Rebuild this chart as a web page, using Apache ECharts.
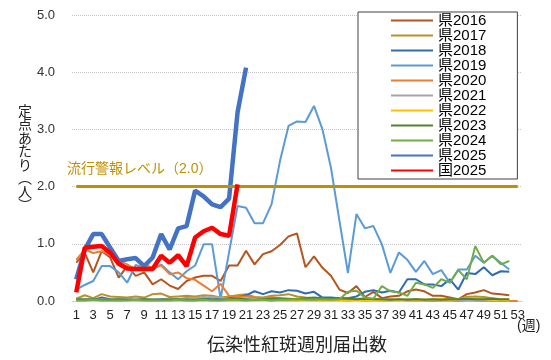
<!DOCTYPE html>
<html><head><meta charset="utf-8">
<script src="https://cdn.jsdelivr.net/npm/echarts@6/dist/echarts.min.js"></script>
<style>html,body{margin:0;padding:0;background:#fff}#c{width:551px;height:360px}</style>
</head><body><div id="c"></div>
<script>
const weeks = ['1','2','3','4','5','6','7','8','9','10','11','12','13','14','15','16','17','18','19','20','21','22','23','24','25','26','27','28','29','30','31','32','33','34','35','36','37','38','39','40','41','42','43','44','45','46','47','48','49','50','51','52','53'];
const yTicks = [0,1,2,3,4,5];
const alertLevel = 2.0;

const pref2016 = [0.67,0.84,0.50,0.87,0.76,0.41,0.61,0.44,0.50,0.29, 0.38,0.27,0.21,0.35,0.41,0.44,0.44,0.35,0.62,0.62, 0.88,0.64,0.82,0.87,0.98,1.13,1.18,0.59,0.78,0.58, 0.44,0.20,0.14,0.26,0.07,0.16,0.05,0.08,0.09,0.17, 0.20,0.17,0.09,0.09,0.06,0.03,0.12,0.15,0.19,0.13, 0.12,0.10];
const pref2017 = [0.04,0.10,0.05,0.12,0.08,0.07,0.06,0.08,0.06,0.12, 0.13,0.07,0.08,0.09,0.08,0.10,0.09,0.06,0.08,0.10, 0.12,0.07,0.06,0.09,0.10,0.12,0.08,0.06,0.05,0.04, 0.05,0.04,0.03,0.03,0.02,0.03,0.02,0.03,0.02,0.02, 0.03,0.02,0.02,0.03,0.04,0.03,0.07,0.08,0.07,0.05, 0.03,0.02];
const pref2018 = [0.02,0.03,0.02,0.06,0.03,0.02,0.03,0.02,0.03,0.02, 0.03,0.04,0.03,0.05,0.04,0.06,0.03,0.04,0.05,0.06, 0.10,0.17,0.12,0.17,0.15,0.19,0.18,0.13,0.16,0.06, 0.06,0.05,0.05,0.08,0.16,0.19,0.15,0.18,0.15,0.38, 0.38,0.29,0.29,0.26,0.38,0.20,0.49,0.47,0.59,0.45, 0.52,0.51];
const pref2019 = [0.20,0.28,0.35,0.61,0.61,0.50,0.32,0.63,0.58,0.55, 0.64,0.50,0.38,0.52,0.62,0.99,0.99,0.04,0.85,1.66, 1.63,1.36,1.36,1.69,2.45,3.06,3.14,3.13,3.41,3.00, 2.33,1.40,0.49,1.52,1.27,1.31,0.99,0.49,0.85,0.72, 0.51,0.70,0.47,0.54,0.32,0.55,0.55,0.79,0.67,0.79, 0.67,0.55];
const pref2020 = [0.72,0.90,0.84,0.87,0.82,0.70,0.64,0.55,0.64,0.58, 0.62,0.47,0.50,0.40,0.37,0.27,0.17,0.30,0.09,0.07, 0.08,0.06,0.05,0.07,0.04,0.03,0.04,0.03,0.02,0.03, 0.02,0.02,0.01,0.02,0.01,0.02,0.01,0.01,0.02,0.01, 0.01,0.01,0.00,0.01,0.01,0.00,0.01,0.01,0.00,0.01, 0.00,0.00,0.00];
const pref2021 = [0.02,0.03,0.02,0.03,0.02,0.02,0.03,0.02,0.02,0.03, 0.02,0.03,0.03,0.04,0.05,0.06,0.07,0.06,0.04,0.03, 0.03,0.02,0.03,0.02,0.02,0.03,0.02,0.02,0.03,0.02, 0.02,0.03,0.02,0.04,0.05,0.04,0.03,0.02,0.02,0.03, 0.02,0.02,0.01,0.02,0.02,0.01,0.02,0.01,0.01,0.02, 0.01,0.01];
const pref2022 = [0.01,0.01,0.02,0.01,0.01,0.01,0.02,0.01,0.01,0.01, 0.01,0.02,0.01,0.01,0.01,0.01,0.02,0.01,0.01,0.01, 0.01,0.01,0.02,0.01,0.01,0.01,0.01,0.02,0.01,0.01, 0.01,0.01,0.01,0.02,0.01,0.01,0.01,0.01,0.01,0.02, 0.01,0.02,0.02,0.03,0.02,0.03,0.05,0.04,0.03,0.02, 0.02,0.01];
const pref2023 = [0.03,0.02,0.03,0.02,0.02,0.03,0.02,0.02,0.03,0.02, 0.02,0.02,0.03,0.02,0.02,0.03,0.02,0.02,0.03,0.04, 0.03,0.02,0.03,0.04,0.05,0.04,0.03,0.05,0.06,0.05, 0.04,0.05,0.04,0.03,0.04,0.03,0.03,0.02,0.03,0.02, 0.03,0.02,0.03,0.02,0.03,0.03,0.04,0.03,0.03,0.04, 0.03,0.03];
const pref2024 = [0.01,0.01,0.02,0.01,0.01,0.01,0.01,0.02,0.01,0.01, 0.01,0.01,0.02,0.01,0.01,0.02,0.01,0.01,0.02,0.02, 0.01,0.02,0.02,0.01,0.02,0.02,0.03,0.02,0.02,0.03, 0.02,0.03,0.16,0.18,0.06,0.04,0.26,0.17,0.15,0.09, 0.32,0.29,0.23,0.38,0.32,0.54,0.38,0.96,0.67,0.79, 0.64,0.70];
const pref2025 = [0.38,0.90,1.17,1.17,0.93,0.70,0.73,0.75,0.61,0.76, 1.17,0.90,1.27,1.31,1.93,1.83,1.69,1.64,1.79,3.30, 4.08];
const nation2025 = [0.15,0.93,0.95,0.96,0.84,0.65,0.57,0.56,0.56,0.56, 0.79,0.67,0.80,0.61,1.11,1.22,1.28,1.17,1.14,2.04];

const names = ['県2016','県2017','県2018','県2019','県2020','県2021','県2022','県2023','県2024','県2025','国2025'];
const FONT = "'Liberation Sans','Noto Sans CJK JP',sans-serif";

function thin(name, data, color) {
  return {name, type:'line', data, symbol:'none', smooth:false,
    lineStyle:{width:2, color}, itemStyle:{color}, z:2};
}
const lastIdx = pref2025.length - 1;
const countyData = pref2025.map((v,i)=> i===lastIdx ? {value:v, label:{show:true, position:'top', distance:4, fontSize:13, color:'#000', fontFamily:FONT, formatter:(p)=>p.value.toFixed(2)}} : v);

const chart = echarts.init(document.getElementById('c'), null, {renderer:'canvas'});
chart.setOption({
  animation:false,
  backgroundColor:'#fff',
  grid:{left:72, right:29, top:15, bottom:59, containLabel:false},
  xAxis:{type:'category', data:weeks, boundaryGap:true,
    axisLine:{show:true, lineStyle:{color:'#d0d0d0'}}, axisTick:{show:false},
    axisLabel:{interval:1, margin:8, fontSize:13, color:'#222', fontFamily:FONT},
    splitLine:{show:false}},
  yAxis:{type:'value', min:yTicks[0], max:yTicks[yTicks.length-1], interval:1,
    axisLine:{show:false}, axisTick:{show:false},
    axisLabel:{margin:17, fontSize:13, color:'#333', fontFamily:FONT, formatter:(v)=>v.toFixed(1)},
    splitLine:{show:true, lineStyle:{color:'#c4c4c4', type:'dotted', width:1}}},
  legend:{orient:'vertical', left:358, top:12, padding:[1,31,1,32],
    backgroundColor:'#fff', borderColor:'#404040', borderWidth:1,
    itemWidth:42, itemHeight:6, itemGap:0, data:names,
    itemStyle:{color:'rgba(0,0,0,0)', borderWidth:0, opacity:0},
    textStyle:{fontSize:15, lineHeight:12.8, color:'#000', fontFamily:FONT}},
  series:[
    thin(names[0], pref2016, '#B5561E'),
    thin(names[1], pref2017, '#B8932A'),
    thin(names[2], pref2018, '#2E6DB0'),
    thin(names[3], pref2019, '#5B9BD5'),
    thin(names[4], pref2020, '#ED7D31'),
    thin(names[5], pref2021, '#A5A5A5'),
    thin(names[6], pref2022, '#FFC000'),
    thin(names[7], pref2023, '#548235'),
    thin(names[8], pref2024, '#70AD47'),
    {name:'警報', type:'line', data:[], symbol:'none', z:3,
      markLine:{silent:true, symbol:'none', label:{show:false},
        lineStyle:{color:'#BF9000', width:3, type:'solid'},
        data:[[{coord:[weeks[0], alertLevel]},{coord:[weeks[weeks.length-1], alertLevel]}]]}},
    {name:names[9], type:'line', data:countyData, symbol:'none', z:4,
      lineStyle:{width:4.5, color:'#4472C4'}, itemStyle:{color:'#4472C4'}},
    {name:names[10], type:'line', data:nation2025, symbol:'none', z:5,
      lineStyle:{width:4.5, color:'#FF0000'}, itemStyle:{color:'#FF0000'}}
  ],
  graphic:[
    {type:'text', left:18, top:105, style:{text:'定\n点\nあ\nた\nり\n︵\n人\n︶', fontSize:14, lineHeight:13.5, fill:'#222', fontFamily:FONT, align:'center'}},
    {type:'text', left:67, top:162, style:{text:'流行警報レベル（2.0）', fontSize:14, fill:'#BF9000', fontFamily:FONT}},
    {type:'text', left:517, top:319, style:{text:'(週)', fontSize:14, fill:'#222', fontFamily:FONT}},
    {type:'text', left:207, top:337, style:{text:'伝染性紅斑週別届出数', fontSize:18, fill:'#222', fontFamily:FONT}}
  ]
});
</script></body></html>
